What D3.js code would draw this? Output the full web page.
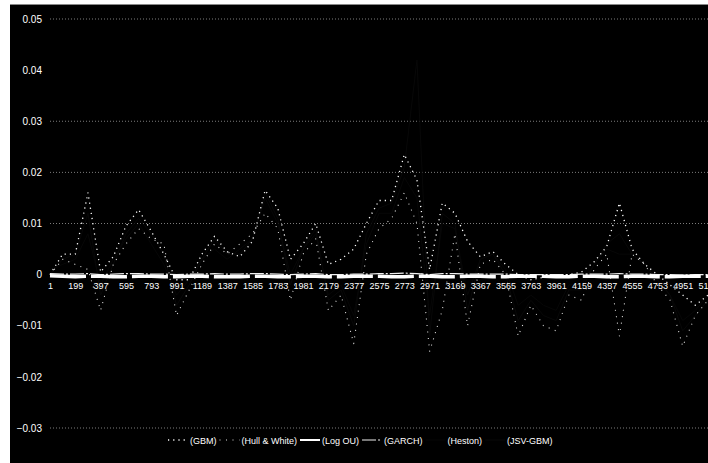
<!DOCTYPE html>
<html>
<head>
<meta charset="utf-8">
<script src="https://cdn.jsdelivr.net/npm/d3@7"></script>
<style>
  html, body { margin: 0; padding: 0; background: #fff; }
  svg { display: block; font-family: "Liberation Sans", Arial, sans-serif; }
</style>
</head>
<body>
<div id="chart"></div>
<script>
// sample steps (category index) shared by all series
const steps = [
  1, 100, 199, 298, 397, 496, 595, 694, 793, 892,
  991, 1090, 1189, 1288, 1387, 1486, 1585, 1684, 1783, 1882,
  1981, 2080, 2179, 2278, 2377, 2476, 2575, 2674, 2773, 2872,
  2971, 3070, 3169, 3268, 3367, 3466, 3565, 3664, 3763, 3862,
  3961, 4060, 4159, 4258, 4357, 4456, 4555, 4654, 4753, 4852,
  4951, 5050, 5149
];

const xTickLabels = [
  1, 199, 397, 595, 793, 991, 1189, 1387, 1585, 1783, 1981, 2179, 2377,
  2575, 2773, 2971, 3169, 3367, 3565, 3763, 3961, 4159, 4357, 4555, 4753,
  4951, 5149
];

const yTicks = [0.05, 0.04, 0.03, 0.02, 0.01, 0, -0.01, -0.02, -0.03];
const gridValues = [0.05, 0.03, 0.02, 0.01, -0.03]; // the ones still visible

const gbm = [
  0.000, 0.004, 0.004, 0.016, 0.0005, 0.0035, 0.0095, 0.0127, 0.0085, 0.004,
  -0.001, -0.001, 0.004, 0.0075, 0.0045, 0.0035, 0.0065, 0.0165, 0.013, 0.003,
  0.006, 0.010, 0.002, 0.003, 0.005, 0.010, 0.0145, 0.0145, 0.0235, 0.0185,
  0.001, 0.014, 0.012, 0.0065, 0.0035, 0.0045, 0.002, 0.000, -0.001, -0.0005,
  0.000, 0.000, 0.0005, 0.0025, 0.0055, 0.014, 0.005, 0.002, 0.000, -0.002,
  -0.004, -0.006, -0.004
];

const hullWhite = [
  0.000, 0.003, 0.002, 0.001, -0.007, 0.002, 0.006, 0.009, 0.007, 0.006,
  -0.008, -0.003, 0.002, 0.006, 0.004, 0.006, 0.008, 0.012, 0.009, -0.005,
  0.004, 0.007, -0.007, -0.004, -0.0135, 0.004, 0.009, 0.011, 0.016, 0.010,
  -0.015, -0.007, 0.008, -0.010, 0.002, 0.003, 0.000, -0.012, -0.006, -0.010,
  -0.011, -0.004, -0.005, 0.001, 0.004, -0.012, 0.004, 0.002, -0.002, -0.005,
  -0.014, -0.008, -0.005
];

const logOU = [
  -0.0002, -0.0003, -0.0004, -0.0003, -0.0003, -0.0004, -0.0004, -0.0003, -0.0003, -0.0004,
  -0.0004, -0.0003, -0.0003, -0.0004, -0.0004, -0.0004, -0.0003, -0.0003, -0.0004, -0.0004,
  -0.0003, -0.0003, -0.0004, -0.0004, -0.0003, -0.0003, -0.0003, -0.0004, -0.0004, -0.0003,
  -0.0003, -0.0004, -0.0004, -0.0003, -0.0003, -0.0004, -0.0004, -0.0003, -0.0003, -0.0003,
  -0.0004, -0.0004, -0.0003, -0.0003, -0.0004, -0.0004, -0.0003, -0.0003, -0.0004, -0.0004,
  -0.0003, -0.0003, -0.0003
];

const garch = [
  0.0002, 0.0001, 0.0001, 0.0002, 0.0000, 0.0001, 0.0002, 0.0002, 0.0001, 0.0001,
  0.0000, 0.0001, 0.0001, 0.0002, 0.0001, 0.0001, 0.0002, 0.0002, 0.0001, 0.0000,
  0.0001, 0.0002, 0.0000, 0.0000, 0.0001, 0.0001, 0.0002, 0.0002, 0.0003, 0.0002,
  0.0000, 0.0002, 0.0002, 0.0001, 0.0001, 0.0001, 0.0001, 0.0000, 0.0000, 0.0000,
  0.0000, 0.0000, 0.0001, 0.0001, 0.0001, 0.0002, 0.0001, 0.0001, 0.0000, 0.0000,
  -0.0001, 0.0000, 0.0000
];

const heston = [
  0.001, 0.002, 0.003, 0.008, -0.002, 0.003, 0.007, 0.010, 0.006, 0.002,
  -0.004, -0.001, 0.003, 0.005, 0.003, 0.005, 0.007, 0.015, 0.010, 0.000,
  0.005, 0.008, -0.004, -0.002, -0.008, 0.006, 0.012, 0.012, 0.019, 0.015,
  -0.008, 0.010, 0.009, -0.004, 0.003, 0.004, 0.001, -0.006, -0.004, -0.006,
  -0.007, -0.002, -0.002, 0.002, 0.005, 0.004, 0.004, 0.002, -0.001, -0.004,
  -0.009, -0.007, -0.004
];

const jsvGbm = [
  0.000, 0.003, 0.004, 0.012, -0.004, 0.002, 0.008, 0.011, 0.008, 0.004,
  -0.006, -0.002, 0.003, 0.007, 0.004, 0.004, 0.007, 0.016, 0.011, -0.002,
  0.005, 0.009, -0.005, -0.003, -0.010, 0.008, 0.013, 0.014, 0.021, 0.042,
  -0.012, 0.012, 0.010, -0.007, 0.003, 0.004, 0.000, -0.009, -0.005, -0.008,
  -0.009, -0.003, -0.003, 0.002, 0.006, 0.008, 0.004, 0.002, -0.001, -0.004,
  -0.011, -0.008, -0.005
];

const seriesNames = ["(GBM)", "(Hull & White)", "(Log OU)", "(GARCH)", "(Heston)", "(JSV-GBM)"];

// styles (the scan lost the colours of Heston / JSV-GBM, they read almost black)
const series = [
  { name: seriesNames[0], values: gbm, stroke: "#ffffff", width: 1.3, dash: "1.2,4" },
  { name: seriesNames[1], values: hullWhite, stroke: "#e0e0e0", width: 1.1, dash: "1,5.5" },
  { name: seriesNames[2], values: logOU, stroke: "#ffffff", width: 3.5, dash: "36,5" },
  { name: seriesNames[3], values: garch, stroke: "#f0f0f0", width: 1.2, dash: "14,2,2,2" },
  { name: seriesNames[4], values: heston, stroke: "#070707", width: 1, dash: null },
  { name: seriesNames[5], values: jsvGbm, stroke: "#080808", width: 1, dash: null },
];

const width = 708;
const height = 463;

const svg = d3.select("#chart")
  .append("svg")
  .attr("width", width)
  .attr("height", height);

// scanned page: white margin on the left and top, black plot plate
svg.append("rect").attr("x", 0).attr("y", 0).attr("width", width).attr("height", height).attr("fill", "#fff");
svg.append("rect").attr("x", 10).attr("y", 4).attr("width", width - 10).attr("height", height - 4).attr("fill", "#000");
svg.append("line").attr("x1", 10).attr("x2", width).attr("y1", 4.5).attr("y2", 4.5)
  .attr("stroke", "#888").attr("stroke-width", 1);

const x = d3.scaleLinear().domain([1, 5149]).range([50, 708]);
const y = d3.scaleLinear().domain([-0.03, 0.05]).range([428, 19]);

// dotted gridlines
svg.append("g")
  .selectAll("line")
  .data(gridValues)
  .join("line")
  .attr("x1", 50)
  .attr("x2", width)
  .attr("y1", (d) => y(d))
  .attr("y2", (d) => y(d))
  .attr("stroke", "#9c9c9c")
  .attr("stroke-width", 0.8)
  .attr("stroke-dasharray", "1,2");

// y axis labels
const yAxis = svg.append("g")
  .attr("transform", "translate(44,0)")
  .call(d3.axisLeft(y).tickValues(yTicks).tickSize(0).tickPadding(2)
    .tickFormat((d) => (d === 0 ? "0" : d3.format(".2f")(d))));
yAxis.select(".domain").remove();
yAxis.selectAll("text")
  .attr("fill", "#fff")
  .style("font-size", "10px");

// series lines
const line = d3.line()
  .x((d, i) => x(steps[i]))
  .y((d) => y(d));

const order = [4, 5, 0, 1, 3, 2];
order.forEach((idx) => {
  const s = series[idx];
  svg.append("path")
    .datum(s.values)
    .attr("fill", "none")
    .attr("stroke", s.stroke)
    .attr("stroke-width", s.width)
    .attr("stroke-dasharray", s.dash)
    .attr("stroke-linejoin", "round")
    .attr("d", line);
});

// x axis labels sit just under the zero line
const xAxis = svg.append("g")
  .attr("transform", "translate(0," + y(0) + ")")
  .call(d3.axisBottom(x).tickValues(xTickLabels).tickSize(0).tickFormat(d3.format("d")));
xAxis.select(".domain").remove();
xAxis.selectAll("text")
  .attr("fill", "#fff")
  .attr("y", 8)
  .style("font-size", "9px");

// legend
const legend = svg.append("g").attr("transform", "translate(168,440)");
let lx = 0;
series.forEach((s) => {
  legend.append("line")
    .attr("x1", lx)
    .attr("x2", lx + 20)
    .attr("y1", 0)
    .attr("y2", 0)
    .attr("stroke", s.stroke)
    .attr("stroke-width", Math.min(s.width, 2))
    .attr("stroke-dasharray", s.dash && s.width < 2 ? s.dash : null);
  const t = legend.append("text")
    .attr("x", lx + 22)
    .attr("y", 3.5)
    .attr("fill", "#fff")
    .style("font-size", "9px")
    .text(s.name);
  lx += 22 + t.node().getComputedTextLength() + 3;
});
</script>
</body>
</html>
